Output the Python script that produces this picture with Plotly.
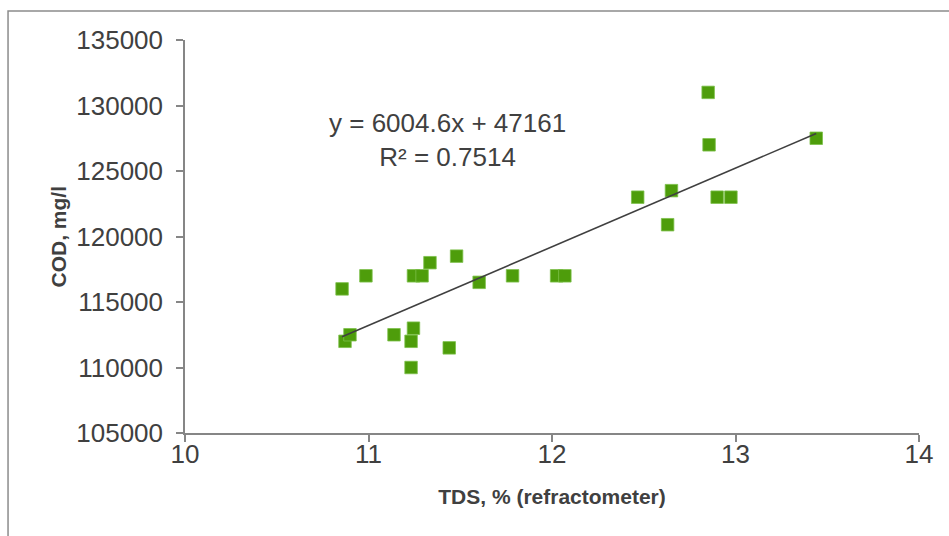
import plotly.graph_objects as go

# TDS (%) measured by refractometer and matching COD (mg/l)
tds = [10.856, 10.872, 10.899, 10.986, 11.139, 11.232, 11.232, 11.245, 11.245,
       11.292, 11.335, 11.440, 11.480, 11.603, 11.785, 12.025, 12.070, 12.467,
       12.630, 12.651, 12.851, 12.856, 12.900, 12.975, 13.440]
cod = [116000, 112000, 112500, 117000, 112500, 110000, 112000, 113000, 117000,
       117000, 118000, 111500, 118500, 116500, 117000, 117000, 117000, 123000,
       120900, 123500, 131000, 127000, 123000, 123000, 127500]

# Linear trendline coefficients as printed on the chart
slope = 6004.6
intercept = 47161
r_squared = 0.7514

x_ticks = [10, 11, 12, 13, 14]
y_ticks = [105000, 110000, 115000, 120000, 125000, 130000, 135000]

trend_x = [min(tds), max(tds)]
trend_y = [slope * v + intercept for v in trend_x]

text_col = "#404040"
axis_col = "#868686"
font_family = "Liberation Sans, Arial, sans-serif"

fig = go.Figure()
fig.add_trace(go.Scatter(
    x=tds, y=cod, mode="markers",
    marker=dict(symbol="square", size=12.5, color="#4E9D0B",
                line=dict(color="#7CC04A", width=0.8)),
    showlegend=False, hoverinfo="x+y",
))
fig.add_trace(go.Scatter(
    x=trend_x, y=trend_y, mode="lines",
    line=dict(color="#404040", width=1.6),
    showlegend=False, hoverinfo="skip",
))

fig.add_annotation(
    x=11.433, y=127400, xref="x", yref="y",
    text=f"y = {slope}x + {intercept}<br>R² = {r_squared}",
    showarrow=False, align="center",
    font=dict(family=font_family, size=26, color=text_col),
)

# Vertical axis title
fig.add_annotation(
    x=-0.173, y=0.5, xref="paper", yref="paper",
    text="<b>COD, mg/l</b>", textangle=-90, showarrow=False,
    xanchor="center", yanchor="middle",
    font=dict(family=font_family, size=21, color=text_col),
)

# Outer chart frame
fig.add_shape(type="rect", xref="paper", yref="paper",
              x0=-0.2411, x1=1.2, y0=-0.35, y1=1.0738,
              line=dict(color="#8C8C8C", width=1.5), fillcolor="rgba(0,0,0,0)",
              layer="below")

fig.update_layout(
    width=949, height=536,
    margin=dict(l=185, r=30, t=40, b=103),
    paper_bgcolor="white", plot_bgcolor="white",
    font=dict(family=font_family, color=text_col),
    xaxis=dict(
        range=[10, 14], tickvals=x_ticks, ticktext=[str(v) for v in x_ticks],
        showgrid=False, zeroline=False,
        showline=True, linecolor=axis_col, linewidth=1.5,
        ticks="outside", ticklen=7, tickcolor=axis_col, tickwidth=1.5,
        tickfont=dict(size=26, color=text_col), ticklabelstandoff=-10,
        title=dict(text="<b>TDS, % (refractometer)</b>",
                   font=dict(size=21, color=text_col), standoff=21),
    ),
    yaxis=dict(
        range=[105000, 135000], tickvals=y_ticks, ticktext=[str(v) for v in y_ticks],
        showgrid=False, zeroline=False,
        showline=True, linecolor=axis_col, linewidth=1.5,
        ticks="outside", ticklen=7, tickcolor=axis_col, tickwidth=1.5,
        tickfont=dict(size=26, color=text_col), ticklabelstandoff=8,
    ),
)

fig.write_html("out.html")
